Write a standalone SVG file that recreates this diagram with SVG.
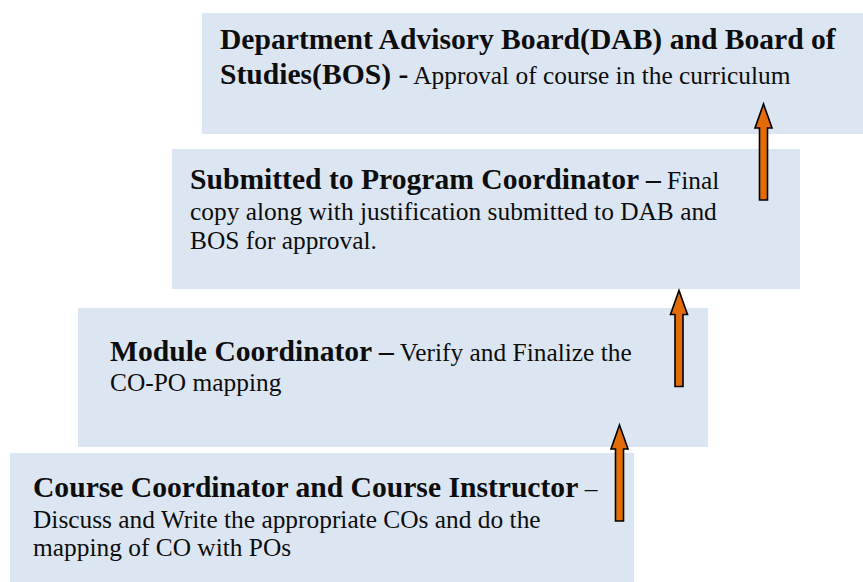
<svg xmlns="http://www.w3.org/2000/svg" xmlns:xlink="http://www.w3.org/1999/xlink" width="863" height="582" viewBox="0 0 863 582">
  <style>
    .box { fill: #dce6f2; }
    .t { font-family: "Liberation Serif", "Times New Roman", serif; fill: #0d0d0d; }
    .b { font-weight: bold; font-size: 29.6px; }
    .r { font-weight: normal; font-size: 25.4px; }
    .arrow { fill: #e36c09; stroke: #000; stroke-width: 1.6; stroke-linejoin: miter; }
  </style>
  <defs>
    <!-- upward block arrow, tip at origin -->
    <path id="up-arrow" class="arrow" d="M0,0 L8.5,24 L4,24 L4,96 L-4,96 L-4,24 L-8.5,24 Z"/>
  </defs>

  <rect width="863" height="582" fill="#ffffff"/>

  <g id="node-dab-bos">
    <rect class="box" x="202" y="13" width="661" height="121"/>
    <text class="t" x="220" y="48.5"><tspan class="b">Department Advisory Board(DAB) and Board of</tspan></text>
    <text class="t" x="220" y="83.5"><tspan class="b">Studies(BOS) -</tspan><tspan class="r"> Approval of course in the curriculum</tspan></text>
  </g>

  <g id="node-program-coordinator">
    <rect class="box" x="172" y="149" width="628" height="140"/>
    <text class="t" x="190" y="188.5"><tspan class="b">Submitted to Program Coordinator –</tspan><tspan class="r"> Final</tspan></text>
    <text class="t r" x="190" y="220">copy along with justification submitted to DAB and</text>
    <text class="t r" x="190" y="248.5">BOS for approval.</text>
  </g>

  <g id="node-module-coordinator">
    <rect class="box" x="78" y="308" width="630" height="139"/>
    <text class="t" x="110" y="361"><tspan class="b">Module Coordinator –</tspan><tspan class="r"> Verify and Finalize the</tspan></text>
    <text class="t r" x="110" y="391">CO-PO mapping</text>
  </g>

  <g id="node-course-coordinator">
    <rect class="box" x="10" y="453" width="624" height="129"/>
    <text class="t" x="33" y="496.7"><tspan class="b">Course Coordinator and Course Instructor</tspan><tspan class="r"> –</tspan></text>
    <text class="t r" x="33" y="528.3">Discuss and Write the appropriate COs and do the</text>
    <text class="t r" x="33" y="556">mapping of CO with POs</text>
  </g>

  <g id="connectors">
    <use xlink:href="#up-arrow" x="619.5" y="425"/>
    <use xlink:href="#up-arrow" x="679" y="290.5"/>
    <use xlink:href="#up-arrow" x="763.5" y="104"/>
  </g>
</svg>
